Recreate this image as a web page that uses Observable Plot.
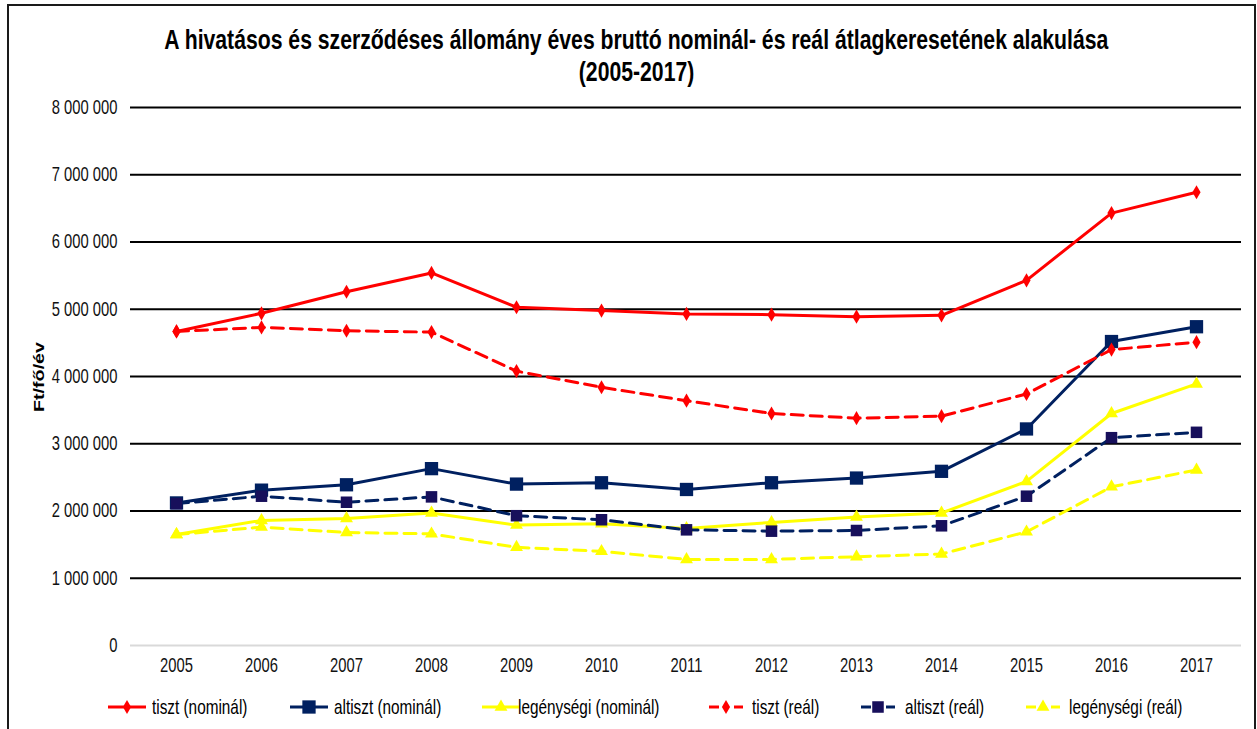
<!DOCTYPE html>
<html><head><meta charset="utf-8">
<script src="https://cdn.jsdelivr.net/npm/d3@7"></script>
<script src="https://cdn.jsdelivr.net/npm/@observablehq/plot@0.6"></script>
<style>
html,body{margin:0;padding:0;background:#fff;overflow:hidden;width:1257px;height:729px;}
#frame{position:absolute;left:7px;top:4px;width:1249px;height:760px;border:2px solid #1a1a1a;box-sizing:border-box;}
#title{position:absolute;left:8px;top:24px;width:1257px;text-align:center;font:bold 27px "Liberation Sans",Arial,sans-serif;line-height:32px;color:#000;}
#title span{display:inline-block;white-space:nowrap;transform-origin:center;}
#chart{position:absolute;left:0;top:90px;}
#ylab{position:absolute;left:39px;top:377px;font:bold 15px "Liberation Sans",Arial,sans-serif;white-space:nowrap;color:#000;line-height:16px;}
.sw{position:absolute;top:697px;}
.lt{position:absolute;top:695px;font:21px "Liberation Sans",Arial,sans-serif;line-height:24px;display:inline-block;transform:scaleX(0.73);transform-origin:left center;white-space:nowrap;color:#000;}
</style></head>
<body>
<div id="frame"></div>
<div id="title"><span id="t1">A hivatásos és szerződéses állomány éves bruttó nominál- és reál átlagkeresetének alakulása</span><br><span id="t2">(2005-2017)</span></div>
<div id="chart"></div>
<div id="ylab">Ft/fő/év</div>
<div id="legend"></div>
<script>
// ---- data ----
const years = [2005, 2006, 2007, 2008, 2009, 2010, 2011, 2012, 2013, 2014, 2015, 2016, 2017];
const tisztNominal = [4670000, 4940000, 5260000, 5540000, 5030000, 4980000, 4930000, 4920000, 4890000, 4910000, 5430000, 6430000, 6740000];
const altisztNominal = [2120000, 2310000, 2390000, 2630000, 2400000, 2420000, 2320000, 2420000, 2490000, 2590000, 3220000, 4520000, 4740000];
const legenysegiNominal = [1650000, 1860000, 1890000, 1970000, 1790000, 1810000, 1740000, 1830000, 1910000, 1970000, 2440000, 3450000, 3890000];
const tisztReal = [4670000, 4730000, 4680000, 4660000, 4080000, 3840000, 3640000, 3450000, 3380000, 3410000, 3740000, 4400000, 4510000];
const altisztReal = [2110000, 2220000, 2130000, 2210000, 1930000, 1870000, 1720000, 1700000, 1710000, 1780000, 2220000, 3090000, 3170000];
const legenysegiReal = [1650000, 1760000, 1680000, 1660000, 1460000, 1400000, 1280000, 1280000, 1320000, 1360000, 1690000, 2360000, 2610000];
const seriesNames = ["tiszt (nominál)", "altiszt (nominál)", "legénységi (nominál)", "tiszt (reál)", "altiszt (reál)", "legénységi (reál)"];
const yTicks = [0, 1000000, 2000000, 3000000, 4000000, 5000000, 6000000, 7000000, 8000000];

// ---- styles ----
const RED = "#ff0000", NAVY = "#002060", YEL = "#ffff00", DARK = "#170f5b";
const styles = [
  {color: RED, dash: null, symbol: "diamond", r: 4.3, fill: RED},
  {color: NAVY, dash: null, symbol: "square", r: 7.5, fill: NAVY},
  {color: YEL, dash: null, symbol: "triangle", r: 4.8, fill: YEL},
  {color: RED, dash: "12,7", symbol: "diamond", r: 4.3, fill: RED},
  {color: NAVY, dash: "12,7", symbol: "square", r: 6.5, fill: DARK},
  {color: YEL, dash: "12,7", symbol: "triangle", r: 4.8, fill: YEL}
];
const valuesList = [tisztNominal, altisztNominal, legenysegiNominal, tisztReal, altisztReal, legenysegiReal];

const marks = [
  Plot.ruleY(yTicks.filter(d => d > 0), {stroke: "#000", strokeWidth: 2}),
  Plot.ruleY([0], {stroke: "#d9d9d9", strokeWidth: 2})
];
seriesNames.forEach((name, i) => {
  const data = years.map((y, j) => ({year: y, value: valuesList[i][j], series: name}));
  const s = styles[i];
  marks.push(Plot.line(data, {x: "year", y: "value", stroke: s.color, strokeWidth: 3, strokeDasharray: s.dash || undefined}));
  marks.push(Plot.dot(data, {x: "year", y: "value", symbol: s.symbol, r: s.r, fill: s.fill, stroke: "none"}));
});

const fmt = d => d3.format(",")(d).replace(/,/g, " ");
const svg = Plot.plot({
  width: 1257, height: 600,
  marginLeft: 130, marginRight: 16, marginTop: 17, marginBottom: 45,
  style: {fontFamily: "'Liberation Sans', Arial, sans-serif", fontSize: "20px", color: "#000", background: "transparent", overflow: "visible"},
  x: {type: "point", domain: years, padding: 0.5, label: null, tickSize: 0, tickPadding: 12, tickFormat: d => String(d)},
  y: {domain: [0, 8000000], ticks: yTicks, label: null, tickSize: 0, tickPadding: 13, tickFormat: fmt},
  marks
});
document.getElementById("chart").appendChild(svg);
svg.querySelectorAll("text").forEach(t => {
  const x = +t.getAttribute("x") || 0;
  const tr = t.getAttribute("transform") || "";
  t.setAttribute("transform", `${tr} translate(${x},0) scale(0.74,1) translate(${-x},0)`);
  t.setAttribute("fill", "#111");
});

// ---- title scaling ----
const t1 = document.getElementById("t1"), t2 = document.getElementById("t2");
const sc = 944 / t1.getBoundingClientRect().width;
t1.style.transform = `scaleX(${sc})`;
t2.style.transform = `scaleX(${sc})`;

// ---- y label ----
const yl = document.getElementById("ylab");
const ys = 70 / yl.getBoundingClientRect().width;
yl.style.transform = `translate(-50%,-50%) rotate(-90deg) scaleX(${ys})`;

// ---- legend ----
const swX = [108, 290, 482, 709, 861, 1026];
const txX = [152, 334, 518, 752, 905, 1069];
const leg = document.getElementById("legend");
const symMap = {diamond: d3.symbolDiamond, square: d3.symbolSquare, triangle: d3.symbolTriangle};
seriesNames.forEach((name, i) => {
  const s = styles[i];
  const w = 38;
  const sv = d3.create("svg").attr("width", w).attr("height", 20).attr("class", "sw").style("left", swX[i] + "px");
  if (s.dash) {
    sv.append("line").attr("x1", 0).attr("x2", 10).attr("y1", 10).attr("y2", 10).attr("stroke", s.color).attr("stroke-width", 3);
    sv.append("line").attr("x1", 25).attr("x2", 34).attr("y1", 10).attr("y2", 10).attr("stroke", s.color).attr("stroke-width", 3);
  } else {
    sv.append("line").attr("x1", 0).attr("x2", w).attr("y1", 10).attr("y2", 10).attr("stroke", s.color).attr("stroke-width", 3);
  }
  const cx = s.dash ? 17 : w / 2;
  sv.append("path").attr("d", d3.symbol(symMap[s.symbol], Math.PI * s.r * s.r)()).attr("transform", `translate(${cx},10)`).attr("fill", s.fill);
  leg.appendChild(sv.node());
  const tx = document.createElement("div");
  tx.className = "lt"; tx.style.left = txX[i] + "px"; tx.textContent = name;
  leg.appendChild(tx);
});
</script>
</body></html>
